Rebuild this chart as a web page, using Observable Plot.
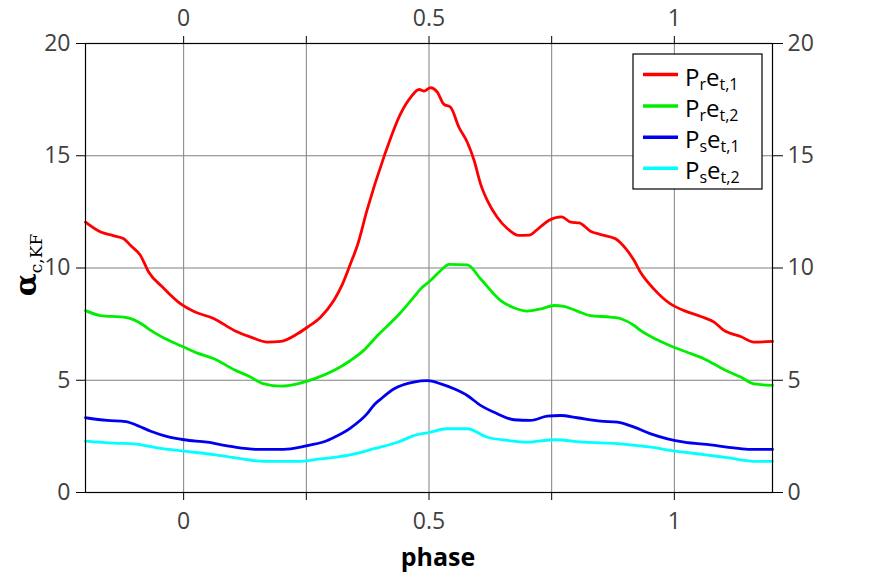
<!DOCTYPE html>
<html>
<head>
<meta charset="utf-8">
<script src="https://cdn.jsdelivr.net/npm/d3@7"></script>
<script src="https://cdn.jsdelivr.net/npm/@observablehq/plot@0.6"></script>
<style>
  html, body { margin: 0; padding: 0; background: white; }
  #chart { width: 870px; height: 576px; }
</style>
</head>
<body>
<div id="chart"></div>
<script>
// Series names and colours
const seriesNames = ["Pret1", "Pret2", "Pset1", "Pset2"];
const seriesColors = ["#ff0000", "#00ee00", "#0000ee", "#00ffff"];

// [phase, alpha] pairs
const pret1 = [[-0.2,12.04],[-0.169,11.6],[-0.145,11.45],[-0.122,11.3],[-0.108,11.0],[-0.088,10.56],[-0.071,9.81],[-0.043,9.15],[-0.006,8.4],[0.021,8.06],[0.062,7.74],[0.103,7.22],[0.137,6.92],[0.171,6.70],[0.198,6.73],[0.232,7.07],[0.252,7.36],[0.279,7.81],[0.306,8.55],[0.322,9.2],[0.340,10.19],[0.354,11.0],[0.374,12.6],[0.408,14.94],[0.442,16.87],[0.463,17.61],[0.480,17.95],[0.490,17.88],[0.503,18.03],[0.517,17.83],[0.530,17.3],[0.544,17.16],[0.561,16.27],[0.578,15.6],[0.592,14.79],[0.605,13.75],[0.619,13.0],[0.639,12.26],[0.660,11.75],[0.683,11.45],[0.704,11.46],[0.724,11.78],[0.744,12.12],[0.770,12.28],[0.789,12.04],[0.806,12.01],[0.829,11.64],[0.850,11.49],[0.880,11.3],[0.901,10.86],[0.918,10.33],[0.931,9.81],[0.958,9.07],[0.992,8.4],[1.020,8.1],[1.054,7.84],[1.081,7.59],[1.101,7.22],[1.135,6.95],[1.162,6.70],[1.2,6.73]];
const pret2 = [[-0.2,8.1],[-0.169,7.88],[-0.122,7.81],[-0.101,7.69],[-0.081,7.44],[-0.067,7.22],[-0.033,6.80],[0.001,6.47],[0.028,6.21],[0.062,5.96],[0.103,5.47],[0.130,5.21],[0.164,4.84],[0.198,4.74],[0.232,4.84],[0.266,5.06],[0.306,5.43],[0.340,5.88],[0.367,6.33],[0.395,6.99],[0.440,7.96],[0.469,8.70],[0.483,9.07],[0.503,9.44],[0.524,9.89],[0.541,10.16],[0.578,10.14],[0.605,9.52],[0.646,8.55],[0.673,8.23],[0.700,8.08],[0.728,8.18],[0.755,8.33],[0.775,8.29],[0.802,8.08],[0.829,7.88],[0.870,7.81],[0.891,7.74],[0.918,7.44],[0.931,7.22],[0.965,6.80],[0.999,6.47],[1.026,6.25],[1.060,5.96],[1.101,5.48],[1.135,5.14],[1.162,4.84],[1.2,4.77]];
const pset1 = [[-0.2,3.33],[-0.156,3.21],[-0.118,3.16],[-0.094,2.98],[-0.067,2.73],[-0.033,2.49],[0.001,2.35],[0.048,2.24],[0.096,2.05],[0.150,1.92],[0.204,1.92],[0.238,2.02],[0.252,2.09],[0.293,2.32],[0.300,2.39],[0.340,2.87],[0.374,3.51],[0.388,3.90],[0.401,4.15],[0.429,4.62],[0.469,4.92],[0.497,4.98],[0.524,4.84],[0.551,4.62],[0.578,4.32],[0.605,3.88],[0.639,3.51],[0.673,3.24],[0.707,3.21],[0.741,3.40],[0.768,3.43],[0.802,3.33],[0.850,3.18],[0.884,3.13],[0.918,2.91],[0.952,2.61],[0.986,2.39],[1.020,2.24],[1.074,2.12],[1.121,1.99],[1.155,1.92],[1.2,1.92]];
const pset2 = [[-0.2,2.29],[-0.142,2.20],[-0.101,2.17],[-0.054,1.99],[0.001,1.84],[0.062,1.69],[0.103,1.55],[0.164,1.39],[0.232,1.39],[0.279,1.50],[0.334,1.65],[0.388,1.95],[0.436,2.24],[0.476,2.58],[0.497,2.66],[0.537,2.84],[0.578,2.84],[0.619,2.46],[0.660,2.32],[0.700,2.24],[0.755,2.35],[0.816,2.24],[0.891,2.17],[0.952,2.02],[1.006,1.83],[1.060,1.69],[1.108,1.55],[1.162,1.39],[1.2,1.39]];

// Axis ticks
const xTicks = [0, 0.25, 0.5, 0.75, 1];
const xTickLabels = [0, 0.5, 1];
const yTicks = [0, 5, 10, 15, 20];
const yGrid = [5, 10, 15];

const allSeries = [pret1, pret2, pset1, pset2];
const rows = allSeries.flatMap((s, i) => s.map(([p, v]) => ({phase: p, value: v, series: seriesNames[i]})));

const fmt = d => xTickLabels.includes(d) ? String(d) : "";

const chart = Plot.plot({
  width: 870,
  height: 576,
  marginLeft: 85,
  marginRight: 98,
  marginTop: 43,
  marginBottom: 84,
  x: {domain: [-0.2, 1.2]},
  y: {domain: [0, 20]},
  color: {domain: seriesNames, range: seriesColors},
  style: {fontFamily: "'Open Sans', sans-serif", fontSize: "23px", color: "#404040", background: "white"},
  marks: [
    Plot.gridX(xTicks, {stroke: "#808080", strokeOpacity: 1, strokeWidth: 1}),
    Plot.gridY(yGrid, {stroke: "#808080", strokeOpacity: 1, strokeWidth: 1}),
    Plot.line(rows, {x: "phase", y: "value", z: "series", stroke: "series", strokeWidth: 2.8, curve: "monotone-x"}),
    Plot.frame({stroke: "black", strokeWidth: 1.2}),
    Plot.axisX(xTicks, {anchor: "bottom", tickSize: 8, tickPadding: 12, tickFormat: fmt, label: null, stroke: "black", fill: "#404040"}),
    Plot.axisX(xTicks, {anchor: "top", tickSize: 8, tickPadding: 10, tickFormat: fmt, label: null, stroke: "black", fill: "#404040"}),
    Plot.axisY(yTicks, {anchor: "left", tickSize: 9, tickPadding: 6, label: null, stroke: "black", fill: "#404040"}),
    Plot.axisY(yTicks, {anchor: "right", tickSize: 10, tickPadding: 5, label: null, stroke: "black", fill: "#404040"})
  ]
});

document.getElementById("chart").appendChild(chart);

const svg = d3.select(chart);

// x-axis label
svg.append("text")
  .attr("x", 438).attr("y", 566)
  .attr("text-anchor", "middle")
  .style("font-family", "'Open Sans', sans-serif")
  .style("font-weight", "bold")
  .style("font-size", "25px")
  .attr("fill", "black")
  .text("phase");

// y-axis label: alpha_{c,KF}
const yl = svg.append("text")
  .attr("transform", "translate(36,265) rotate(-90)")
  .attr("text-anchor", "middle")
  .style("font-family", "'DejaVu Serif', 'Liberation Serif', serif")
  .attr("fill", "black");
yl.append("tspan").style("font-size", "30px").style("font-weight", "bold").text("α");
yl.append("tspan").style("font-size", "17px").attr("dy", 6).text("c,KF");

// legend
const lx = 633, ly = 54, lw = 129, lh = 135;
const lg = svg.append("g");
lg.append("rect").attr("x", lx).attr("y", ly).attr("width", lw).attr("height", lh)
  .attr("fill", "white").attr("stroke", "black").attr("stroke-width", 1.2);
const subs = [["r", "t,1"], ["r", "t,2"], ["s", "t,1"], ["s", "t,2"]];
const rowYs = [74.5, 106, 137.3, 168.3];
subs.forEach((s, i) => {
  const y = rowYs[i];
  lg.append("line").attr("x1", 643).attr("x2", 678).attr("y1", y).attr("y2", y)
    .attr("stroke", seriesColors[i]).attr("stroke-width", 3.5);
  const t = lg.append("text").attr("x", 685).attr("y", y + 11)
    .attr("text-anchor", "start")
    .style("font-family", "'Open Sans', sans-serif").style("font-size", "24px").attr("fill", "black");
  t.append("tspan").text("P");
  t.append("tspan").style("font-size", "16px").attr("dy", 4).text(s[0]);
  t.append("tspan").attr("dy", -4).text("e");
  t.append("tspan").style("font-size", "16px").attr("dy", 4).text(s[1]);
});
</script>
</body>
</html>
